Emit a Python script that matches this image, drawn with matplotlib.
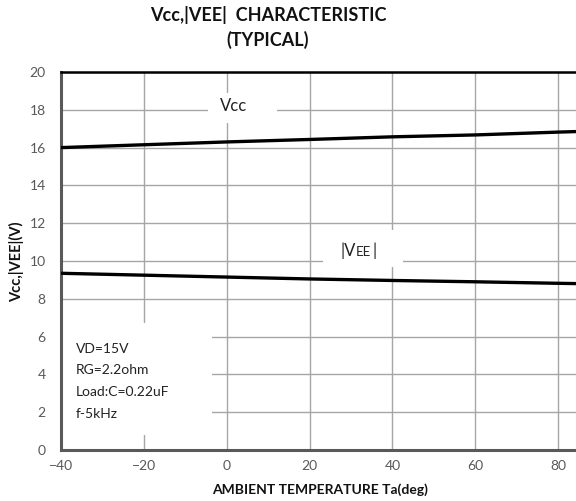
import matplotlib
matplotlib.use("Agg")
import matplotlib.pyplot as plt
from matplotlib.patches import Rectangle

temps = [-40, -20, 0, 20, 40, 60, 80, 100]
vcc = [16.0, 16.15, 16.3, 16.43, 16.57, 16.67, 16.82, 16.95]
vee = [9.35, 9.25, 9.15, 9.05, 8.97, 8.9, 8.82, 8.75]
xticks = [-40, -20, 0, 20, 40, 60, 80]
yticks = [0, 2, 4, 6, 8, 10, 12, 14, 16, 18, 20]
conditions = ["VD=15V", "RG=2.2ohm", "Load:C=0.22uF", "f-5kHz"]

plt.rcParams['font.family'] = ['Lato', 'DejaVu Sans']

W, H = 576, 501
fig = plt.figure(figsize=(W / 100, H / 100), dpi=100)

def px(x, y):
    return x / W, 1 - y / H

ax_l, ax_r_px = 61, 641
ax_t, ax_b = 72, 450
ax = fig.add_axes([ax_l / W, 1 - ax_b / H, (ax_r_px - ax_l) / W, (ax_b - ax_t) / H])
ax.set_xlim(-40, 100)
ax.set_ylim(0, 20)
ax.set_xticks(xticks)
ax.set_yticks(yticks)
ax.grid(True, color='#a6a6a6', linewidth=1.0)
ax.axvline(100, color='#a6a6a6', linewidth=1.0, zorder=0.5)
ax.set_axisbelow(True)
ax.tick_params(length=0, labelsize=10, labelcolor='#595959')
ax.tick_params(axis='y', pad=11)
ax.tick_params(axis='x', pad=7)
for s in ['left', 'bottom']:
    ax.spines[s].set_color('#595959')
    ax.spines[s].set_linewidth(2.2)
ax.spines['top'].set_color('#000000')
ax.spines['top'].set_linewidth(1.8)
ax.spines['right'].set_visible(False)

ax.plot(temps, vcc, color='black', linewidth=2.4, zorder=3)
ax.plot(temps, vee, color='black', linewidth=2.4, zorder=3)

def pxdata(x, y):
    return -40 + (x - 61) * 140 / 580, (450 - y) * 20 / 378

def whitebox(x0, y0, x1, y1):
    dx0, dy1 = pxdata(x0, y0)
    dx1, dy0 = pxdata(x1, y1)
    ax.add_patch(Rectangle((dx0, dy0), dx1 - dx0, dy1 - dy0, facecolor='white',
                           edgecolor='none', zorder=2))

whitebox(208, 93, 277, 123)
whitebox(323, 230, 403, 267)
whitebox(63, 323, 212, 435)

fig.text(*px(234, 106), "Vcc", fontsize=12, ha='center', va='center', color='#222222')

# |VEE| with small caps EE
fig.text(*px(355.5, 251), "|V", fontsize=12, ha='right', va='center', color='#222222')
fig.text(*px(363.5, 252), "EE", fontsize=9.5, ha='center', va='center', color='#222222')
fig.text(*px(372.5, 251), "|", fontsize=12, ha='left', va='center', color='#222222')

for i, line in enumerate(conditions):
    fig.text(*px(76, 349 + i * 21.5), line, fontsize=10, ha='left', va='center', color='#222222')

fig.text(*px(268, 15), "Vcc,|VEE|  CHARACTERISTIC", fontsize=13, fontweight='bold',
         ha='center', va='center', color='#111111')
fig.text(*px(268, 40), "(TYPICAL)", fontsize=13, fontweight='bold',
         ha='center', va='center', color='#111111')
fig.text(*px(320, 490), "AMBIENT TEMPERATURE Ta(deg)", fontsize=10, fontweight='bold',
         ha='center', va='center', color='#111111')
fig.text(*px(17, 262), "Vcc,|VEE|(V)", fontsize=10.5, fontweight='bold', rotation=90,
         ha='center', va='center', color='#111111')

fig.savefig("out.png", dpi=100)
